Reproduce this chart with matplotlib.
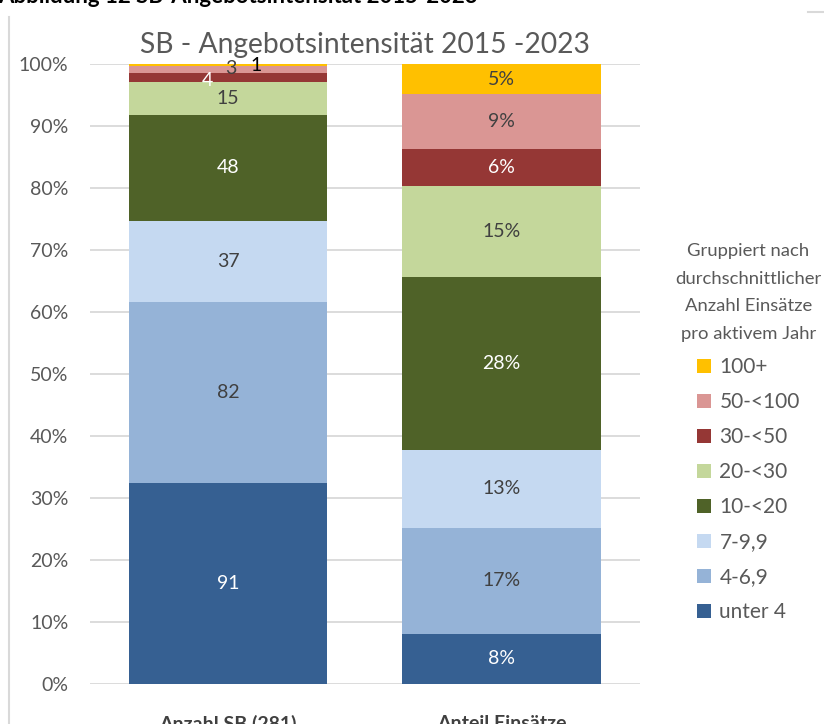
import matplotlib
matplotlib.use('Agg')
import matplotlib.pyplot as plt
from matplotlib.patches import Patch
from matplotlib.lines import Line2D
import numpy as np

plt.rcParams['font.family'] = ['Lato', 'DejaVu Sans']

# data
groups = ['unter 4', '4-6,9', '7-9,9', '10-<20', '20-<30', '30-<50', '50-<100', '100+']
anzahl_sb = [91, 82, 37, 48, 15, 4, 3, 1]                              # number of SB (281)
anteil_einsaetze = [8.1, 17.1, 12.6, 27.9, 14.6, 6.0, 8.8, 4.9]        # share of deployments, %
categories = ['Anzahl SB (281)', 'Anteil Einsätze']

# styles
colors = ['#366092', '#95B3D7', '#C5D9F1', '#4F6228', '#C4D79B', '#953735', '#DA9694', '#FFC000']
label_colors = ['white', '#404040', '#404040', 'white', '#404040', 'white', '#404040', 'black']
# manual offsets (points) for the crowded labels on the left bar
left_offsets = [(0, 0), (0, 0), (0, 0), (0, 0), (0, 0), (-15, -2), (2, 1), (20, 0)]

fig = plt.figure(figsize=(8.24, 7.24), dpi=100)
ax = fig.add_axes([0.1092, 0.0552, 0.6675, 0.8564])

sb_total = sum(anzahl_sb)
left_pct = [v / sb_total * 100 for v in anzahl_sb]
right_pct = anteil_einsaetze

x = np.arange(len(categories))
bottoms = np.zeros(2)
for i, g in enumerate(groups):
    vals = np.array([left_pct[i], right_pct[i]])
    ax.bar(x, vals, 0.725, bottom=bottoms, color=colors[i], label=g, zorder=2)
    # left bar label: count
    dx, dy = left_offsets[i]
    ax.annotate(str(anzahl_sb[i]), (x[0], bottoms[0] + vals[0] / 2),
                xytext=(dx, dy), textcoords='offset points',
                ha='center', va='center', fontsize=14, color=label_colors[i],
                zorder=3)
    # right bar label: share
    c = label_colors[i] if label_colors[i] != 'black' else '#404040'
    ax.text(x[1], bottoms[1] + vals[1] / 2, f'{right_pct[i]:.0f}%',
            ha='center', va='center', fontsize=14, color=c, zorder=3)
    bottoms += vals

ax.set_xlim(-0.505, 1.506)
ax.set_ylim(0, 100)
ax.set_yticks(np.arange(0, 101, 10))
ax.set_yticklabels([f'{t}%' for t in range(0, 101, 10)])
ax.yaxis.grid(True, color='#D9D9D9', linewidth=1.3, zorder=0)
ax.set_axisbelow(True)
for s in ax.spines.values():
    s.set_visible(False)
ax.tick_params(axis='y', length=0, pad=15.5, labelsize=14, labelcolor='#595959')
ax.tick_params(axis='x', length=0, pad=22)
ax.set_xticks(x)
ax.set_xticklabels(categories, fontsize=14, fontweight='bold', color='#404040')

ax.set_title('SB - Angebotsintensität 2015 -2023', fontsize=20.3, color='#595959', pad=8)

# legend, top category first
handles = [Patch(facecolor=colors[i], edgecolor='none') for i in reversed(range(len(groups)))]
labels = [groups[i] for i in reversed(range(len(groups)))]
leg = fig.legend(handles, labels,
                 title='Gruppiert nach\ndurchschnittlicher\nAnzahl Einsätze\npro aktivem Jahr',
                 loc='center', bbox_to_anchor=(0.908, 0.4025), bbox_transform=fig.transFigure,
                 frameon=False, fontsize=15, title_fontsize=13.3,
                 handlelength=0.7, handleheight=0.7, handletextpad=0.4,
                 labelspacing=0.72, labelcolor='#595959', borderpad=0)
leg.get_title().set_color('#595959')
leg.get_title().set_linespacing(1.9)
leg.get_title().set_ha('center')

# page heading (cut off at top) and document borders
fig.text(-0.002, 0.996, 'Abbildung 12 SB-Angebotsintensität 2015-2023',
         fontsize=16, fontweight='bold', color='black', va='baseline', ha='left')
fig.add_artist(Line2D([0.011, 0.011], [0, 0.977], color='#D9D9D9', linewidth=1.5))
fig.add_artist(Line2D([0.981, 1.0], [0.983, 0.983], color='#D9D9D9', linewidth=1.5))

fig.savefig('out.png', dpi=100)
